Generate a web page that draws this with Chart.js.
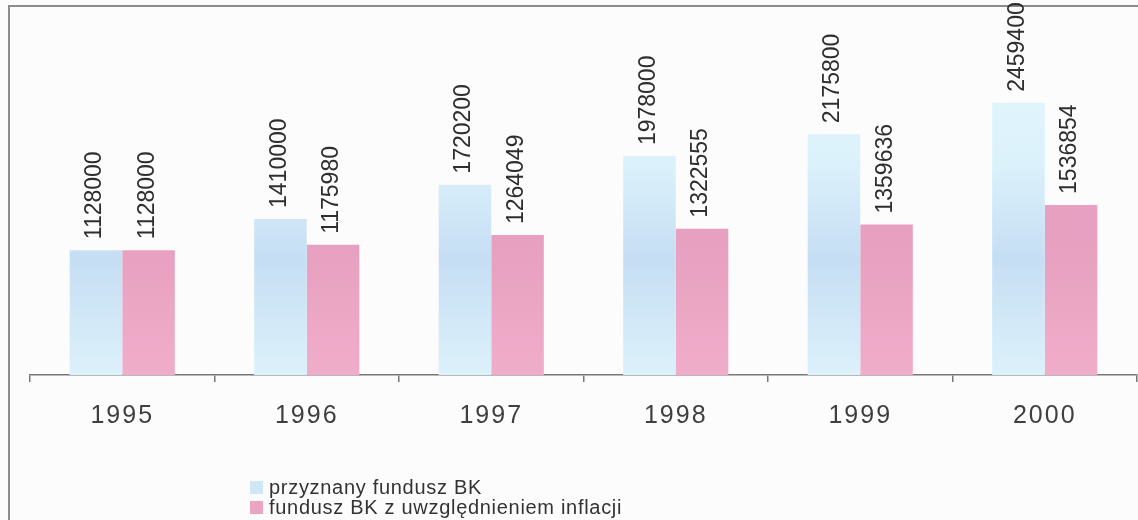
<!DOCTYPE html>
<html>
<head>
<meta charset="utf-8">
<script src="https://cdn.jsdelivr.net/npm/chart.js@4.4.1/dist/chart.umd.min.js"></script>
<style>
  html, body { margin: 0; padding: 0; background: #fdfcfd; }
  #wrap { position: relative; width: 1138px; height: 520px; overflow: hidden; }
  #frame { position: absolute; left: 8px; top: 5px; width: 1200px; height: 600px;
           border-left: 2px solid #8c8c8c; border-top: 2px solid #8c8c8c; }
  #chart { position: absolute; left: 0; top: 0; }
  #legend { position: absolute; left: 250px; top: 477px; font-family: "Liberation Sans", Arial, sans-serif;
            font-size: 20px; color: #333; letter-spacing: 0.7px; line-height: 20px; }
  #legend div { white-space: nowrap; }
  #legend span { display: inline-block; width: 13px; height: 13px; margin-right: 6px; vertical-align: 0px; }
</style>
</head>
<body>
<div id="wrap">
  <div id="frame"></div>
  <canvas id="chart" width="1138" height="520"></canvas>
  <div id="legend"></div>
</div>
<script>
const years = ['1995', '1996', '1997', '1998', '1999', '2000']
const przyznany = [1128000, 1410000, 1720200, 1978000, 2175800, 2459400]
const zInflacja = [1128000, 1175980, 1264049, 1322555, 1359636, 1536854]
const seriesNames = ['przyznany fundusz BK', 'fundusz BK z uwzględnieniem inflacji']
const legendColors = ['#cfe7f6', '#eba5c3']

function blueFill(ctx) {
  const area = ctx.chart.chartArea
  if (!area) return '#cfe7f6'
  const g = ctx.chart.ctx.createLinearGradient(0, area.top, 0, area.bottom)
  g.addColorStop(0, '#e3f6fc')
  g.addColorStop(0.35, '#dcf2fb')
  g.addColorStop(0.65, '#c6def4')
  g.addColorStop(1, '#dcf1fa')
  return g
}

function pinkFill(ctx) {
  const area = ctx.chart.chartArea
  if (!area) return '#eba5c3'
  const g = ctx.chart.ctx.createLinearGradient(0, area.top, 0, area.bottom)
  g.addColorStop(0, '#eaa3c2')
  g.addColorStop(0.6, '#e7a0bf')
  g.addColorStop(1, '#f0adca')
  return g
}

// rotated value labels above each bar
const valueLabels = {
  id: 'valueLabels',
  afterDatasetsDraw(chart) {
    const ctx = chart.ctx
    ctx.save()
    ctx.letterSpacing = '0px'
    ctx.font = '23px "Liberation Sans", Arial, sans-serif'
    ctx.fillStyle = '#2e2e2e'
    ctx.textAlign = 'left'
    ctx.textBaseline = 'middle'
    chart.data.datasets.forEach((ds, i) => {
      chart.getDatasetMeta(i).data.forEach((bar, j) => {
        ctx.save()
        ctx.translate(bar.x - 1, bar.y - 11)
        ctx.rotate(-Math.PI / 2)
        ctx.fillText(String(ds.data[j]), 0, 0)
        ctx.restore()
      })
    })
    ctx.restore()
  }
}

const spacedTicks = {
  id: 'spacedTicks',
  beforeDraw(chart) { chart.ctx.letterSpacing = '2px' }
}

new Chart(document.getElementById('chart'), {
  type: 'bar',
  data: {
    labels: years,
    datasets: [
      { label: seriesNames[0], data: przyznany, backgroundColor: blueFill },
      { label: seriesNames[1], data: zInflacja, backgroundColor: pinkFill }
    ]
  },
  options: {
    responsive: false,
    animation: false,
    datasets: { bar: { categoryPercentage: 0.57, barPercentage: 1.0 } },
    layout: { padding: { left: 30, right: 1, top: 43, bottom: 70 } },
    scales: {
      x: {
        grid: { display: true, drawOnChartArea: false, drawTicks: true, tickLength: 7, color: '#777', lineWidth: 1.5 },
        border: { display: true, color: '#777', width: 1.5 },
        ticks: { color: '#3f3f3f', padding: 19, font: { family: '"Liberation Sans", Arial, sans-serif', size: 25 } }
      },
      y: { display: false, min: 0, max: 3000000 }
    },
    plugins: {
      legend: { display: false },
      tooltip: { enabled: false }
    }
  },
  plugins: [spacedTicks, valueLabels]
})

document.getElementById('legend').innerHTML = seriesNames
  .map((n, i) => `<div><span style="background:${legendColors[i]}"></span>${n}</div>`).join('')
</script>
</body>
</html>
